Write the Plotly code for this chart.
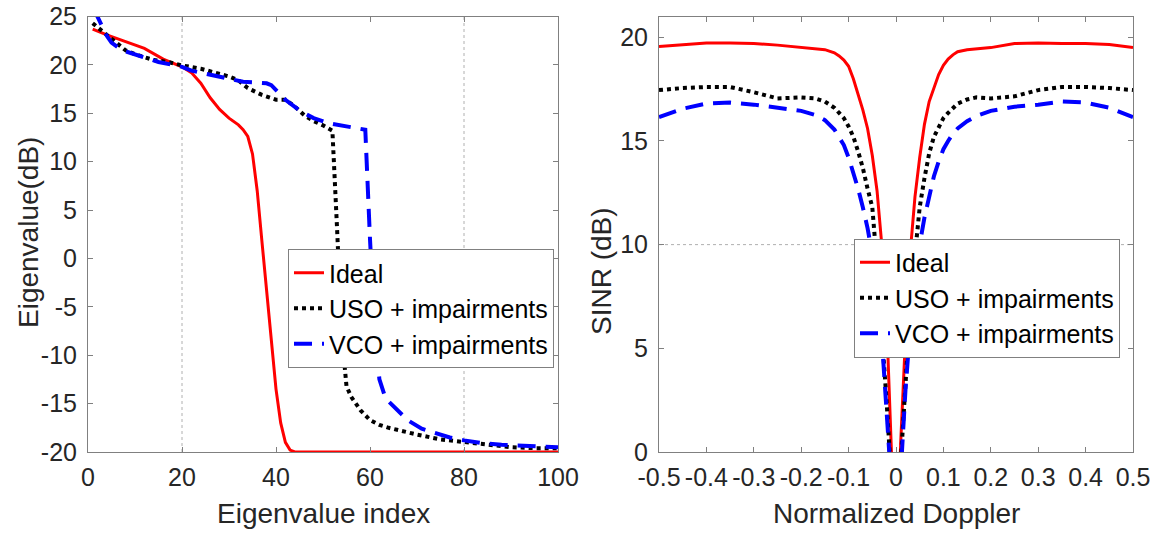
import plotly.graph_objects as go

# ---------------- Left panel: eigenvalue spectra ----------------
ideal_idx = [1, 4, 8, 12, 16, 20, 22, 24, 26, 28, 30, 32, 33, 34, 35, 36, 37, 38, 39, 40, 41, 42, 43, 44, 50, 60, 70, 80, 90, 100]
ideal_eig = [23.7, 23.1, 22.4, 21.7, 20.6, 19.8, 19.2, 18.1, 16.6, 15.4, 14.5, 13.8, 13.3, 12.6, 10.8, 7.0, 1.8, -3.5, -8.5, -13.5, -17.0, -19.0, -19.8, -20.0, -20.0, -20.0, -20.0, -20.0, -20.0, -20.0]

uso_idx = [1, 2, 4, 6, 8, 10, 12, 14, 17, 20, 24, 27, 30, 32, 34, 37, 40, 42, 44, 46, 48, 50, 52, 53, 54, 55, 56, 57, 58, 60, 62, 64, 67, 70, 75, 80, 85, 90, 95, 100]
uso_eig = [24.3, 23.9, 23.2, 22.3, 21.5, 21.1, 20.8, 20.5, 20.3, 19.95, 19.6, 19.2, 18.8, 18.4, 17.6, 16.9, 16.4, 16.4, 15.7, 14.8, 14.2, 13.75, 13.2, 3.0, -8.0, -13.2, -14.3, -15.0, -15.7, -16.7, -17.2, -17.5, -17.9, -18.2, -18.7, -19.0, -19.3, -19.5, -19.6, -19.6]

vco_idx = [1, 2, 3, 4, 5, 6, 7, 8, 10, 12, 15, 18, 20, 22, 24, 27, 30, 33, 35, 37, 38, 39, 40, 42, 45, 48, 51, 54, 57, 59, 60, 61, 62, 63, 64, 66, 68, 71, 74, 77, 80, 84, 88, 92, 96, 100]
vco_eig = [25.8, 25.0, 24.0, 23.0, 22.3, 21.9, 21.6, 21.4, 21.1, 20.7, 20.3, 20.0, 19.8, 19.4, 19.2, 18.8, 18.5, 18.25, 18.2, 18.2, 18.1, 17.9, 17.4, 16.4, 15.3, 14.5, 14.0, 13.7, 13.5, 13.3, 2.0, -7.5, -12.5, -14.0, -14.8, -15.8, -16.7, -17.6, -18.1, -18.5, -18.8, -19.1, -19.25, -19.35, -19.45, -19.5]

# ---------------- Right panel: SINR vs normalized Doppler ----------------
doppler = [-0.5, -0.45, -0.4, -0.35, -0.3, -0.25, -0.2, -0.17, -0.15, -0.13, -0.12, -0.11, -0.1, -0.09, -0.08, -0.07, -0.06, -0.05, -0.04, -0.03, -0.02, -0.01, 0.0,
           0.01, 0.02, 0.03, 0.04, 0.05, 0.06, 0.07, 0.08, 0.09, 0.1, 0.11, 0.12, 0.13, 0.15, 0.17, 0.2, 0.25, 0.3, 0.35, 0.4, 0.45, 0.5]
sinr_ideal = [19.55, 19.65, 19.72, 19.72, 19.7, 19.62, 19.52, 19.45, 19.4, 19.25, 19.1, 18.9, 18.6, 18.0, 17.3, 16.5, 15.6, 14.3, 12.6, 10.0, 6.5, 1.5, -6.0,
              0.5, 5.5, 9.6, 12.3, 14.2, 15.8, 16.9, 17.6, 18.2, 18.65, 18.95, 19.15, 19.3, 19.4, 19.45, 19.5, 19.7, 19.72, 19.7, 19.7, 19.65, 19.5]
sinr_uso = [17.45, 17.55, 17.6, 17.6, 17.35, 17.05, 17.1, 17.05, 16.9, 16.6, 16.35, 16.1, 15.7, 15.2, 14.5, 13.7, 12.7, 11.8, 9.0, 6.0, 2.5, -1.3, -8.0,
            -0.5, 3.5, 7.0, 9.5, 11.8, 13.2, 14.4, 15.2, 15.7, 16.1, 16.35, 16.6, 16.8, 17.0, 17.1, 17.05, 17.15, 17.45, 17.6, 17.6, 17.55, 17.45]
sinr_vco = [16.15, 16.55, 16.8, 16.85, 16.75, 16.6, 16.45, 16.25, 16.0, 15.55, 15.2, 14.8, 14.2, 13.5, 12.7, 11.8, 10.8, 9.5, 7.8, 5.5, 2.5, -1.5, -8.0,
            -1.0, 3.0, 6.0, 8.3, 10.0, 11.3, 12.4, 13.3, 14.0, 14.6, 15.0, 15.35, 15.6, 15.95, 16.2, 16.45, 16.65, 16.75, 16.9, 16.85, 16.6, 16.15]

left_xticks = [0, 20, 40, 60, 80, 100]
left_yticks = [-20, -15, -10, -5, 0, 5, 10, 15, 20, 25]
left_ytext = ["-20", "-15", "-10", "-5", "0", "5", "10", "15", "20", "25"]
right_xticks = [-0.5, -0.4, -0.3, -0.2, -0.1, 0, 0.1, 0.2, 0.3, 0.4, 0.5]
right_xtext = ["-0.5", "-0.4", "-0.3", "-0.2", "-0.1", "0", "0.1", "0.2", "0.3", "0.4", "0.5"]
right_yticks = [0, 5, 10, 15, 20]

names = ["Ideal", "USO + impairments", "VCO + impairments"]
RED, BLACK, BLUE = "#ff0000", "#000000", "#0000ff"
FONT = "Liberation Sans, Arial, sans-serif"
TXT = "#262626"
AX = "#808080"
TICK_SIZE = 25
TITLE_SIZE = 28
LEG_SIZE = 25

fig = go.Figure()
fig.add_trace(go.Scatter(x=ideal_idx, y=ideal_eig, mode="lines", name=names[0],
                         line=dict(color=RED, width=3), xaxis="x", yaxis="y", legend="legend"))
fig.add_trace(go.Scatter(x=uso_idx, y=uso_eig, mode="lines", name=names[1],
                         line=dict(color=BLACK, width=4, dash="dot"), xaxis="x", yaxis="y", legend="legend"))
fig.add_trace(go.Scatter(x=vco_idx, y=vco_eig, mode="lines", name=names[2],
                         line=dict(color=BLUE, width=4, dash="18px,10px"), xaxis="x", yaxis="y", legend="legend"))

fig.add_trace(go.Scatter(x=doppler, y=sinr_ideal, mode="lines", name=names[0],
                         line=dict(color=RED, width=3), xaxis="x2", yaxis="y2", legend="legend2"))
fig.add_trace(go.Scatter(x=doppler, y=sinr_uso, mode="lines", name=names[1],
                         line=dict(color=BLACK, width=4, dash="dot"), xaxis="x2", yaxis="y2", legend="legend2"))
fig.add_trace(go.Scatter(x=doppler, y=sinr_vco, mode="lines", name=names[2],
                         line=dict(color=BLUE, width=4, dash="18px,10px"), xaxis="x2", yaxis="y2", legend="legend2"))

W, H = 1163, 534
ydom = [1 - 452 / H, 1 - 16.5 / H]

axis_common = dict(showline=True, linecolor=AX, linewidth=1, mirror="ticks", ticks="inside",
                   ticklen=5, tickcolor=AX, showgrid=False, zeroline=False, automargin=False,
                   tickfont=dict(family=FONT, size=TICK_SIZE, color=TXT))
xax_common = dict(axis_common, ticklabelstandoff=3)
yax_common = dict(axis_common, ticklabelstandoff=5)
title_font = dict(size=TITLE_SIZE, family=FONT, color=TXT)

fig.update_layout(
    width=W, height=H, margin=dict(l=0, r=0, t=0, b=0, autoexpand=False),
    paper_bgcolor="white", plot_bgcolor="white",
    font=dict(family=FONT, color=TXT),
    xaxis=dict(domain=[88 / W, 558 / W], range=[0, 100], tickvals=left_xticks,
               anchor="y", **xax_common),
    yaxis=dict(domain=ydom, range=[-20, 25], tickvals=left_yticks, ticktext=left_ytext,
               anchor="x", **yax_common),
    xaxis2=dict(domain=[659 / W, 1133 / W], range=[-0.5, 0.5], tickvals=right_xticks, ticktext=right_xtext,
                anchor="y2", **xax_common),
    yaxis2=dict(domain=ydom, range=[0, 21], tickvals=right_yticks,
                anchor="x2", **yax_common),
    legend=dict(x=554 / W, xanchor="right", y=1 - 308.5 / H, yanchor="middle",
                bgcolor="white", bordercolor=AX, borderwidth=1,
                font=dict(family=FONT, size=LEG_SIZE, color="#000000"), itemwidth=30),
    legend2=dict(x=1120 / W, xanchor="right", y=1 - 298 / H, yanchor="middle",
                 bgcolor="white", bordercolor=AX, borderwidth=1,
                 font=dict(family=FONT, size=LEG_SIZE, color="#000000"), itemwidth=30),
    showlegend=True,
)

# axis titles placed as text annotations (positions matched to the original)
titles = [
    ("Eigenvalue index", 323, 513, 0),
    ("Normalized Doppler", 896, 513, 0),
    ("Eigenvalue(dB)", 28, 233, -90),
    ("SINR (dB)", 601, 271, -90),
]
for txt, px, py, ang in titles:
    fig.add_annotation(text=txt, x=px / W, y=1 - py / H, xref="paper", yref="paper",
                       xanchor="center", yanchor="middle", textangle=ang, showarrow=False,
                       font=title_font)

# sparse dotted reference lines seen in the original
for xv in [20, 80]:
    fig.add_shape(type="line", xref="x", yref="y domain", x0=xv, x1=xv, y0=0, y1=1,
                  line=dict(color="#b0b0b0", width=1, dash="dot"), layer="below")
fig.add_shape(type="line", xref="x2 domain", yref="y2", x0=0, x1=1, y0=10, y1=10,
              line=dict(color="#b0b0b0", width=1, dash="dot"), layer="below")

fig.write_html("out.html")
